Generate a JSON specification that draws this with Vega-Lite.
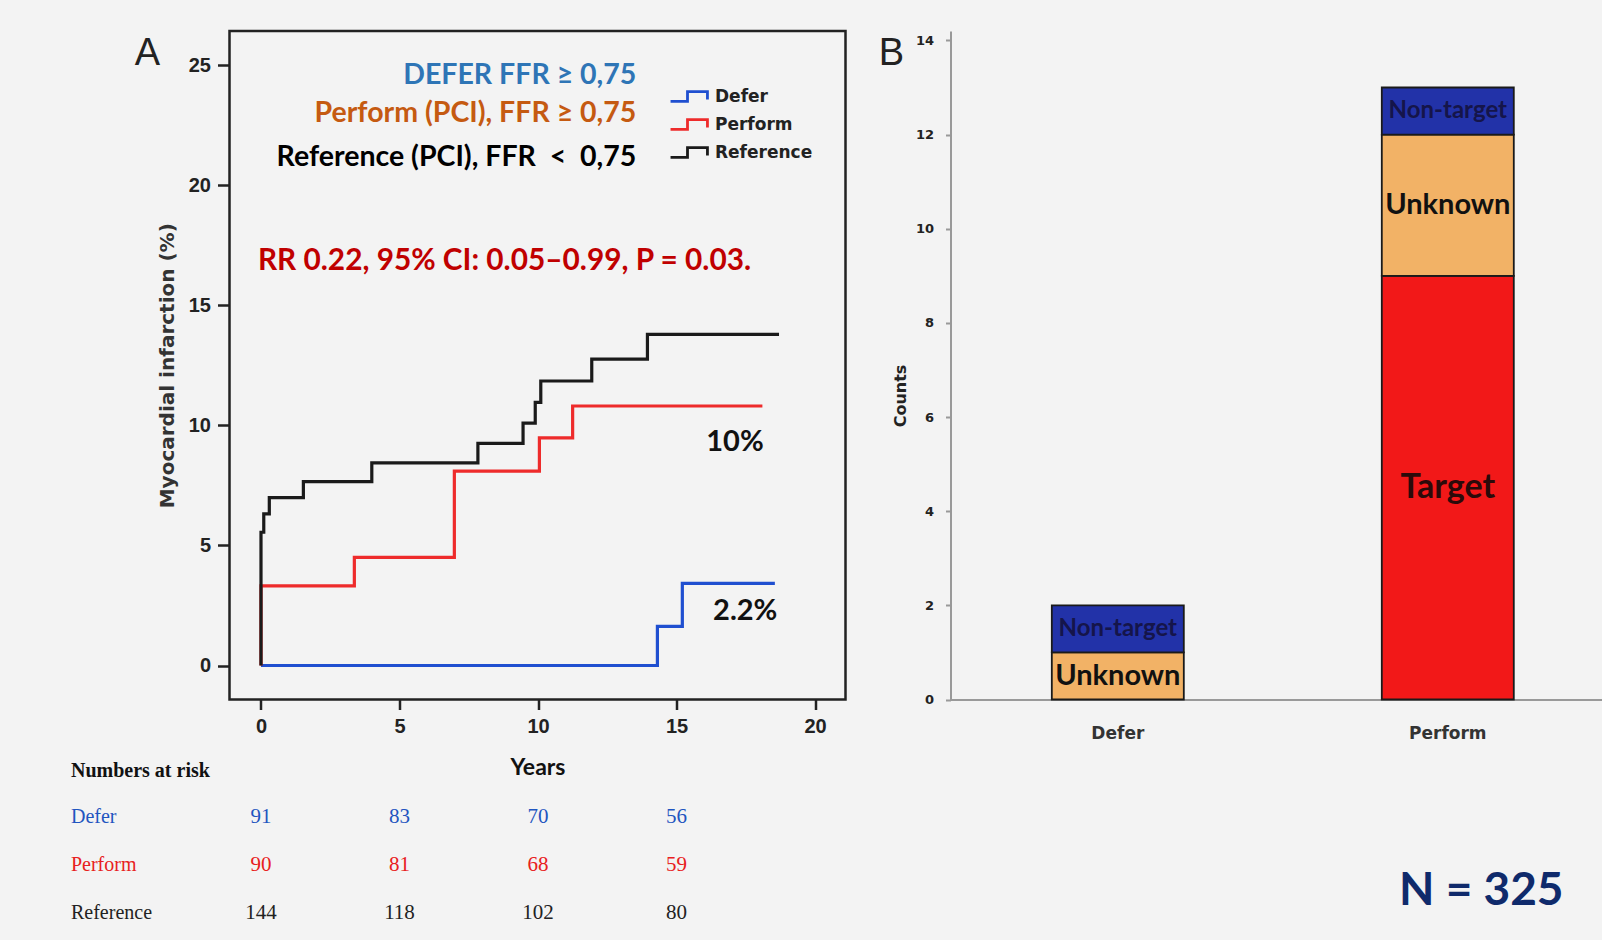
{
  "$schema": "https://vega.github.io/schema/vega-lite/v6.json",
  "background": "#f3f3f3",
  "padding": {"left": 69.5, "top": 29, "right": 0, "bottom": 18},
  "bounds": "flush",
  "spacing": 105,
  "config": {"view": {"stroke": null}},
  "resolve": {"scale": {"color": "independent", "x": "independent", "y": "independent", "size": "independent"}, "legend": {"color": "independent", "size": "independent"}},
  "hconcat": [
    {
      "width": 616,
      "height": 668.5,
      "view": {"stroke": "#222222", "strokeWidth": 2.5},
      "resolve": {"scale": {"color": "independent"}},
      "layer": [
        {
          "data": {"values": [
            {"group": "Defer", "i": 0, "years": 0, "mi": 0},
            {"group": "Defer", "i": 1, "years": 14.31, "mi": 1.63},
            {"group": "Defer", "i": 2, "years": 15.21, "mi": 3.42},
            {"group": "Defer", "i": 3, "years": 18.55, "mi": 3.42},
            {"group": "Perform", "i": 0, "years": 0, "mi": 0},
            {"group": "Perform", "i": 1, "years": 0, "mi": 3.32},
            {"group": "Perform", "i": 2, "years": 3.37, "mi": 4.5},
            {"group": "Perform", "i": 3, "years": 6.98, "mi": 8.1},
            {"group": "Perform", "i": 4, "years": 10.05, "mi": 9.48},
            {"group": "Perform", "i": 5, "years": 11.25, "mi": 10.81},
            {"group": "Perform", "i": 6, "years": 18.1, "mi": 10.81},
            {"group": "Reference", "i": 0, "years": 0, "mi": 0},
            {"group": "Reference", "i": 1, "years": 0, "mi": 5.55},
            {"group": "Reference", "i": 2, "years": 0.1, "mi": 6.32},
            {"group": "Reference", "i": 3, "years": 0.3, "mi": 6.99},
            {"group": "Reference", "i": 4, "years": 1.53, "mi": 7.66},
            {"group": "Reference", "i": 5, "years": 4.0, "mi": 8.44},
            {"group": "Reference", "i": 6, "years": 7.83, "mi": 9.25},
            {"group": "Reference", "i": 7, "years": 9.46, "mi": 10.1},
            {"group": "Reference", "i": 8, "years": 9.9, "mi": 10.96},
            {"group": "Reference", "i": 9, "years": 10.1, "mi": 11.85},
            {"group": "Reference", "i": 10, "years": 11.94, "mi": 12.76},
            {"group": "Reference", "i": 11, "years": 13.95, "mi": 13.79},
            {"group": "Reference", "i": 12, "years": 18.7, "mi": 13.79}
          ]},
          "mark": {"type": "line", "interpolate": "step-after", "strokeWidth": 3.2},
          "encoding": {
            "x": {"field": "years", "type": "quantitative",
              "scale": {"domain": [-1.137, 21.1], "nice": false, "zero": false},
              "axis": {"values": [0, 5, 10, 15, 20], "title": "Years", "domain": false, "grid": false,
                "tickSize": 10, "tickWidth": 2.5, "tickColor": "#222222",
                "labelFont": "Liberation Sans", "labelFontWeight": "bold", "labelFontSize": 20, "labelColor": "#222222", "labelPadding": 7,
                "titleFont": "Lato", "titleFontSize": 23, "titleFontWeight": "bold", "titleColor": "#111111", "titlePadding": 20}},
            "y": {"field": "mi", "type": "quantitative",
              "scale": {"domain": [-1.416, 26.43], "nice": false, "zero": false},
              "axis": {"values": [0, 5, 10, 15, 20, 25], "title": "Myocardial infarction (%)", "domain": false, "grid": false,
                "tickSize": 12, "tickWidth": 2.5, "tickColor": "#222222",
                "labelFont": "Liberation Sans", "labelFontWeight": "bold", "labelFontSize": 20, "labelColor": "#222222", "labelPadding": 7,
                "titleFont": "DejaVu Sans", "titleFontSize": 20, "titleFontWeight": "bold", "titleColor": "#333333", "titlePadding": 11}},
            "color": {"field": "group", "type": "nominal",
              "scale": {"domain": ["Defer", "Perform", "Reference"], "range": ["#1f4fd0", "#ee2b2b", "#1a1a1a"]},
              "legend": {"orient": "none", "legendX": 444.5, "legendY": 49, "title": null, "padding": 0,
                "symbolType": "M-1.33,0.33H-0.2V-0.33H1.13V0.2", "symbolSize": 900, "symbolStrokeWidth": 2.8, "symbolFillColor": "transparent",
                "labelFont": "DejaVu Sans", "labelFontWeight": "bold", "labelFontSize": 17, "labelColor": "#222222", "labelOffset": 8, "rowPadding": -1}},
            "order": {"field": "i", "type": "quantitative"}
          }
        },
        {
          "data": {"values": [
            {"years": 13.55, "mi": 24.59, "txt": "DEFER FFR ≥ 0,75", "who": "Defer"},
            {"years": 13.55, "mi": 23.02, "txt": "Perform (PCI), FFR ≥ 0,75", "who": "Perform"},
            {"years": 13.55, "mi": 21.19, "txt": "Reference (PCI), FFR\u00a0\u00a0<\u00a0\u00a00,75", "who": "Reference"}
          ]},
          "mark": {"type": "text", "align": "right", "baseline": "middle", "font": "Lato", "fontWeight": "bold", "fontSize": 28.5},
          "encoding": {
            "x": {"field": "years", "type": "quantitative"},
            "y": {"field": "mi", "type": "quantitative"},
            "text": {"field": "txt"},
            "color": {"field": "who", "type": "nominal", "scale": {"domain": ["Defer", "Perform", "Reference"], "range": ["#2e75b6", "#c55a11", "#000000"]}, "legend": null}
          }
        },
        {
          "data": {"values": [
            {"years": -0.11, "mi": 16.85, "txt": "RR 0.22, 95% CI: 0.05–0.99, P = 0.03."}
          ]},
          "mark": {"type": "text", "align": "left", "baseline": "middle", "font": "Lato", "fontWeight": "bold", "fontSize": 29.8, "color": "#c00000"},
          "encoding": {
            "x": {"field": "years", "type": "quantitative"},
            "y": {"field": "mi", "type": "quantitative"},
            "text": {"field": "txt"}
          }
        },
        {
          "data": {"values": [
            {"years": 17.11, "mi": 9.31, "txt": "10%"},
            {"years": 17.48, "mi": 2.25, "txt": "2.2%"}
          ]},
          "mark": {"type": "text", "align": "center", "baseline": "middle", "font": "Lato", "fontWeight": "bold", "fontSize": 29, "color": "#111111"},
          "encoding": {
            "x": {"field": "years", "type": "quantitative"},
            "y": {"field": "mi", "type": "quantitative"},
            "text": {"field": "txt"}
          }
        },
        {
          "data": {"values": [
            {"years": -4.1, "mi": 25.49, "txt": "A"}
          ]},
          "mark": {"type": "text", "align": "center", "baseline": "middle", "font": "Liberation Sans", "fontSize": 38, "color": "#222222"},
          "encoding": {
            "x": {"field": "years", "type": "quantitative"},
            "y": {"field": "mi", "type": "quantitative"},
            "text": {"field": "txt"}
          }
        },
        {
          "data": {"values": [
            {"years": -6.86, "mi": -4.41, "txt": "Numbers at risk"}
          ]},
          "mark": {"type": "text", "align": "left", "baseline": "middle", "font": "Liberation Serif", "fontWeight": "bold", "fontSize": 20, "color": "#111111"},
          "encoding": {
            "x": {"field": "years", "type": "quantitative"},
            "y": {"field": "mi", "type": "quantitative"},
            "text": {"field": "txt"}
          }
        },
        {
          "data": {"values": [
            {"years": -6.86, "mi": -6.33, "txt": "Defer", "row": "Defer"},
            {"years": -6.86, "mi": -8.33, "txt": "Perform", "row": "Perform"},
            {"years": -6.86, "mi": -10.29, "txt": "Reference", "row": "Reference"}
          ]},
          "mark": {"type": "text", "align": "left", "baseline": "middle", "font": "Liberation Serif", "fontSize": 20},
          "encoding": {
            "x": {"field": "years", "type": "quantitative"},
            "y": {"field": "mi", "type": "quantitative"},
            "text": {"field": "txt"},
            "color": {"field": "row", "type": "nominal", "scale": {"domain": ["Defer", "Perform", "Reference"], "range": ["#1f55c0", "#e82020", "#222222"]}, "legend": null}
          }
        },
        {
          "data": {"values": [
            {"years": 0, "mi": -6.33, "txt": "91", "row": "Defer"},
            {"years": 5, "mi": -6.33, "txt": "83", "row": "Defer"},
            {"years": 10, "mi": -6.33, "txt": "70", "row": "Defer"},
            {"years": 15, "mi": -6.33, "txt": "56", "row": "Defer"},
            {"years": 0, "mi": -8.33, "txt": "90", "row": "Perform"},
            {"years": 5, "mi": -8.33, "txt": "81", "row": "Perform"},
            {"years": 10, "mi": -8.33, "txt": "68", "row": "Perform"},
            {"years": 15, "mi": -8.33, "txt": "59", "row": "Perform"},
            {"years": 0, "mi": -10.29, "txt": "144", "row": "Reference"},
            {"years": 5, "mi": -10.29, "txt": "118", "row": "Reference"},
            {"years": 10, "mi": -10.29, "txt": "102", "row": "Reference"},
            {"years": 15, "mi": -10.29, "txt": "80", "row": "Reference"}
          ]},
          "mark": {"type": "text", "align": "center", "baseline": "middle", "font": "Liberation Serif", "fontSize": 21},
          "encoding": {
            "x": {"field": "years", "type": "quantitative"},
            "y": {"field": "mi", "type": "quantitative"},
            "text": {"field": "txt"},
            "color": {"field": "row", "type": "nominal", "scale": {"domain": ["Defer", "Perform", "Reference"], "range": ["#1f55c0", "#e82020", "#222222"]}, "legend": null}
          }
        }
      ]
    },
    {
      "width": 651,
      "height": 668.5,
      "view": {"stroke": null},
      "data": {"values": [
        {"arm": "Defer", "segment": "Unknown", "rank": 2, "count": 1},
        {"arm": "Defer", "segment": "Non-target", "rank": 3, "count": 1},
        {"arm": "Perform", "segment": "Target", "rank": 1, "count": 9},
        {"arm": "Perform", "segment": "Unknown", "rank": 2, "count": 3},
        {"arm": "Perform", "segment": "Non-target", "rank": 3, "count": 1}
      ]},
      "resolve": {"scale": {"color": "independent"}},
      "layer": [
        {
          "mark": {"type": "bar", "stroke": "#1a1a1a", "strokeWidth": 1.8},
          "encoding": {
            "x": {"field": "arm", "type": "nominal", "sort": ["Defer", "Perform"],
              "scale": {"domain": ["Defer", "Perform"], "paddingInner": 0.6, "paddingOuter": 0.2864, "align": 0.536},
              "axis": {"title": null, "labelAngle": 0, "ticks": false, "domainColor": "#999999", "domainWidth": 2,
                "labelFont": "DejaVu Sans", "labelFontWeight": "bold", "labelFontSize": 17, "labelColor": "#333333", "labelPadding": 26}},
            "y": {"field": "count", "type": "quantitative", "stack": "zero",
              "scale": {"domain": [0, 14.2], "nice": false},
              "axis": {"values": [0, 2, 4, 6, 8, 10, 12, 14], "title": "Counts", "grid": false,
                "domainColor": "#999999", "domainWidth": 2, "tickColor": "#999999", "tickWidth": 2, "tickSize": 5,
                "labelFont": "DejaVu Sans", "labelFontWeight": "bold", "labelFontSize": 13, "labelColor": "#222222", "labelPadding": 12,
                "titleFont": "DejaVu Sans", "titleFontSize": 16, "titleFontWeight": "bold", "titleColor": "#222222", "titlePadding": 7, "titleY": 364.5}},
            "color": {"field": "segment", "type": "nominal",
              "scale": {"domain": ["Target", "Unknown", "Non-target"], "range": ["#f21818", "#f2b266", "#2232a8"]}, "legend": null},
            "order": {"field": "rank", "type": "quantitative", "sort": "ascending"}
          }
        },
        {
          "mark": {"type": "text", "font": "Lato", "fontWeight": "bold", "baseline": "middle", "align": "center"},
          "encoding": {
            "x": {"field": "arm", "type": "nominal", "sort": ["Defer", "Perform"]},
            "y": {"field": "count", "type": "quantitative", "stack": "zero", "bandPosition": 0.5},
            "color": {"field": "segment", "type": "nominal",
              "scale": {"domain": ["Target", "Unknown", "Non-target"], "range": ["#2b0a0a", "#111111", "#15154a"]}, "legend": null},
            "size": {"field": "segment", "type": "ordinal", "sort": ["Target", "Unknown", "Non-target"],
              "scale": {"domain": ["Target", "Unknown", "Non-target"], "range": [34, 24, 18]}, "legend": null},
            "order": {"field": "rank", "type": "quantitative", "sort": "ascending"},
            "text": {"field": "segment"}
          }
        },
        {
          "data": {"values": [{"arm": "Defer", "count": 13.72, "txt": "B"}]},
          "mark": {"type": "text", "align": "center", "baseline": "middle", "font": "Liberation Sans", "fontSize": 38, "color": "#222222", "dx": -226.5},
          "encoding": {
            "x": {"field": "arm", "type": "nominal"},
            "y": {"field": "count", "type": "quantitative", "stack": null},
            "text": {"field": "txt"}
          }
        },
        {
          "data": {"values": [{"arm": "Perform", "count": -4.07, "txt": "N = 325"}]},
          "mark": {"type": "text", "align": "center", "baseline": "middle", "font": "Lato", "fontWeight": "bold", "fontSize": 46, "color": "#0f2a6b", "dx": 33.5},
          "encoding": {
            "x": {"field": "arm", "type": "nominal"},
            "y": {"field": "count", "type": "quantitative", "stack": null},
            "text": {"field": "txt"}
          }
        }
      ]
    }
  ]
}
